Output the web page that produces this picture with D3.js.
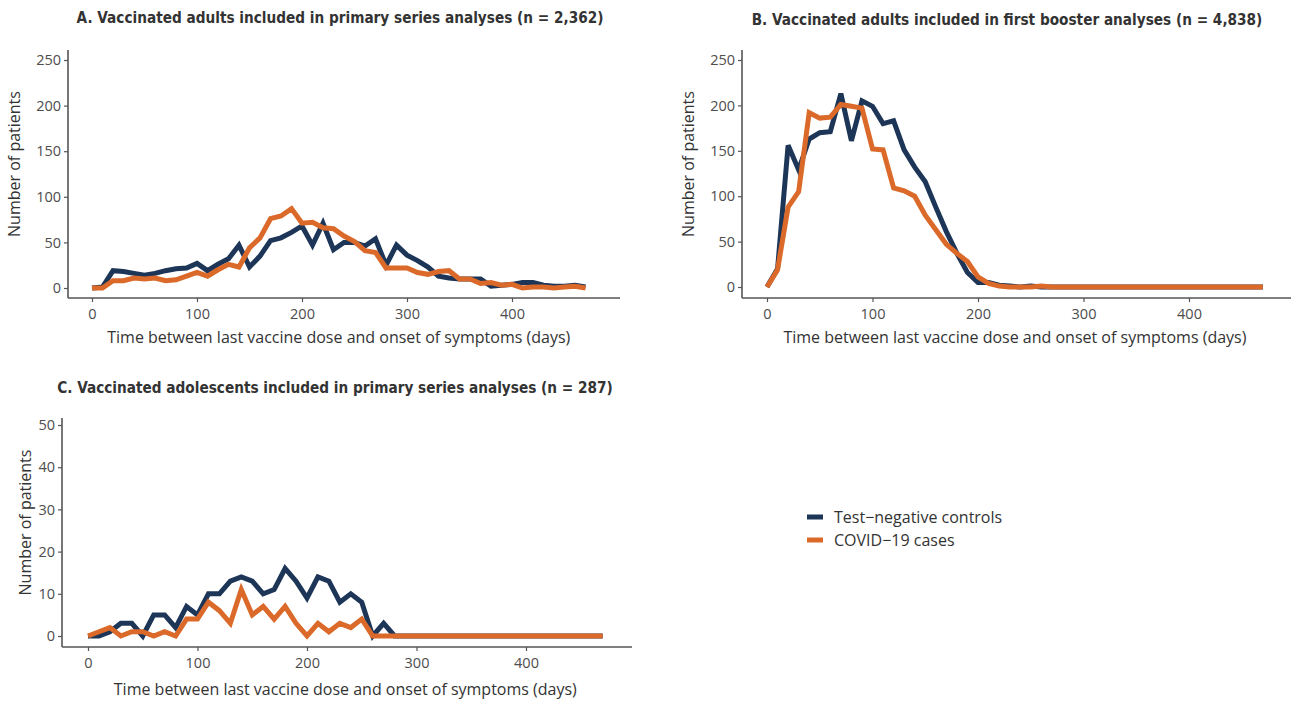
<!DOCTYPE html>
<html>
<head>
<meta charset="utf-8">
<script src="https://cdn.jsdelivr.net/npm/d3@7"></script>
<style>
  body { margin: 0; background: #fff; }
  text { font-family: "Open Sans", sans-serif; }
</style>
</head>
<body>
<div id="chart"></div>
<script>
const width = 1291
const height = 701

// Days since last dose (10-day bins)
const days = d3.range(0, 480, 10)

// Panel A: adults, primary series
const adultsPrimaryControls = [0, 1, 19, 18, 16, 14, 16, 19, 21, 22, 27, 19, 26, 32, 47, 23, 35, 52, 55, 61, 68, 47, 71, 42, 50, 50, 46, 54, 25, 47, 36, 30, 23, 13, 11, 10, 10, 10, 2, 3, 4, 6, 6, 3, 2, 2, 3, 1]
const adultsPrimaryCases = [0, 0, 8, 8, 11, 10, 11, 8, 9, 13, 17, 13, 20, 26, 23, 44, 55, 76, 79, 87, 71, 72, 66, 65, 57, 51, 41, 39, 22, 22, 22, 17, 15, 18, 19, 10, 10, 5, 6, 3, 4, 0, 1, 1, 0, 1, 2, 0]

// Panel B: adults, first booster
const adultsBoosterControls = [0, 20, 156, 129, 163, 170, 171, 213, 161, 205, 199, 180, 183, 151, 132, 116, 88, 61, 37, 16, 5, 5, 2, 1, 0, 1, 0, 0, 0, 0, 0, 0, 0, 0, 0, 0, 0, 0, 0, 0, 0, 0, 0, 0, 0, 0, 0, 0]
const adultsBoosterCases = [0, 19, 88, 105, 192, 186, 187, 201, 199, 197, 152, 151, 109, 106, 100, 79, 63, 47, 37, 28, 11, 4, 1, 0, 0, 0, 1, 0, 0, 0, 0, 0, 0, 0, 0, 0, 0, 0, 0, 0, 0, 0, 0, 0, 0, 0, 0, 0]

// Panel C: adolescents, primary series
const adolescentsControls = [0, 0, 1, 3, 3, 0, 5, 5, 2, 7, 5, 10, 10, 13, 14, 13, 10, 11, 16, 13, 9, 14, 13, 8, 10, 8, 0, 3, 0, 0, 0, 0, 0, 0, 0, 0, 0, 0, 0, 0, 0, 0, 0, 0, 0, 0, 0, 0]
const adolescentsCases = [0, 1, 2, 0, 1, 1, 0, 1, 0, 4, 4, 8, 6, 3, 11, 5, 7, 4, 7, 3, 0, 3, 1, 3, 2, 4, 0, 0, 0, 0, 0, 0, 0, 0, 0, 0, 0, 0, 0, 0, 0, 0, 0, 0, 0, 0, 0, 0]

const xTicks = [0, 100, 200, 300, 400]
const seriesNames = ["Test\u2212negative controls", "COVID\u221219 cases"]
const colors = ["#1d3557", "#db6a2a"]

const panels = [
  {title: "A. Vaccinated adults included in primary series analyses (n = 2,362)", titleX: 340, titleY: 23,
   left: 68, top: 50, right: 620, bottom: 298, x0: 92, x400: 512, y0: 288, yTop: 60, yMax: 250,
   yTicks: [0, 50, 100, 150, 200, 250], yTitleX: 20, xTitleDy: 45, series: [adultsPrimaryControls, adultsPrimaryCases]},
  {title: "B. Vaccinated adults included in first booster analyses (n = 4,838)", titleX: 1007, titleY: 25,
   left: 742, top: 50, right: 1291, bottom: 298, x0: 767, x400: 1189, y0: 287, yTop: 60, yMax: 250,
   yTicks: [0, 50, 100, 150, 200, 250], yTitleX: 694, xTitleDy: 45, series: [adultsBoosterControls, adultsBoosterCases]},
  {title: "C. Vaccinated adolescents included in primary series analyses (n = 287)", titleX: 335, titleY: 393,
   left: 62, top: 418, right: 632, bottom: 647, x0: 88, x400: 526, y0: 636, yTop: 425, yMax: 50,
   yTicks: [0, 10, 20, 30, 40, 50], yTitleX: 31, xTitleDy: 48, series: [adolescentsControls, adolescentsCases]}
]

const svg = d3.select("div#chart").append("svg").attr("width", width).attr("height", height)

panels.forEach(p => {
  const x = d3.scaleLinear().domain([0, 400]).range([p.x0, p.x400])
  const y = d3.scaleLinear().domain([0, p.yMax]).range([p.y0, p.yTop])
  const g = svg.append("g")

  // Title
  g.append("text")
    .attr("x", p.titleX).attr("y", p.titleY)
    .attr("text-anchor", "middle")
    .attr("font-size", 15.2).attr("font-weight", 700)
    .attr("fill", "#333")
    .style("font-family", "'DejaVu Sans Condensed', 'DejaVu Sans', sans-serif")
    .text(p.title)

  // Axes
  const xAxis = d3.axisBottom(x).tickValues(xTicks).tickSize(4).tickSizeOuter(0)
  const yAxis = d3.axisLeft(y).tickValues(p.yTicks).tickSize(4).tickSizeOuter(0)
  const xg = g.append("g").attr("transform", `translate(0, ${p.bottom})`).call(xAxis)
  const yg = g.append("g").attr("transform", `translate(${p.left}, 0)`).call(yAxis)
  xg.select(".domain").attr("d", `M${p.left},0H${p.right}`)
  yg.select(".domain").attr("d", `M0,${p.top}V${p.bottom}`)
  ;[xg, yg].forEach(a => {
    a.select(".domain").attr("stroke", "#555").attr("stroke-width", 1.6)
    a.selectAll(".tick line").attr("stroke", "#555").attr("stroke-width", 1.2)
    a.selectAll(".tick text").attr("fill", "#4d4d4d").attr("font-size", 14.5)
      .style("font-family", "'Open Sans', sans-serif")
  })
  xg.selectAll(".tick text").attr("dy", "0.95em")

  // Axis titles
  g.append("text")
    .attr("x", (p.x0 + x(470)) / 2)
    .attr("y", p.bottom + p.xTitleDy)
    .attr("text-anchor", "middle").attr("font-size", 16).attr("fill", "#333")
    .text("Time between last vaccine dose and onset of symptoms (days)")
  g.append("text")
    .attr("transform", `translate(${p.yTitleX}, ${(p.top + p.bottom) / 2 - 10}) rotate(-90)`)
    .attr("text-anchor", "middle").attr("font-size", 16).attr("fill", "#333")
    .text("Number of patients")

  // Lines
  const line = d3.line().x((d, i) => x(days[i])).y(d => y(d))
  p.series.forEach((s, k) => {
    g.append("path")
      .datum(s)
      .attr("d", line)
      .attr("fill", "none")
      .attr("stroke", colors[k])
      .attr("stroke-width", 5)
      .attr("stroke-linejoin", "miter")
  })
})

// Legend
const legend = svg.append("g").attr("transform", "translate(807, 517)")
seriesNames.forEach((name, i) => {
  legend.append("line")
    .attr("x1", 0).attr("x2", 16)
    .attr("y1", i * 23).attr("y2", i * 23)
    .attr("stroke", colors[i]).attr("stroke-width", 5)
  legend.append("text")
    .attr("x", 27).attr("y", i * 23)
    .attr("dy", "0.35em")
    .attr("font-size", 16).attr("fill", "#333")
    .text(name)
})
</script>
</body>
</html>
